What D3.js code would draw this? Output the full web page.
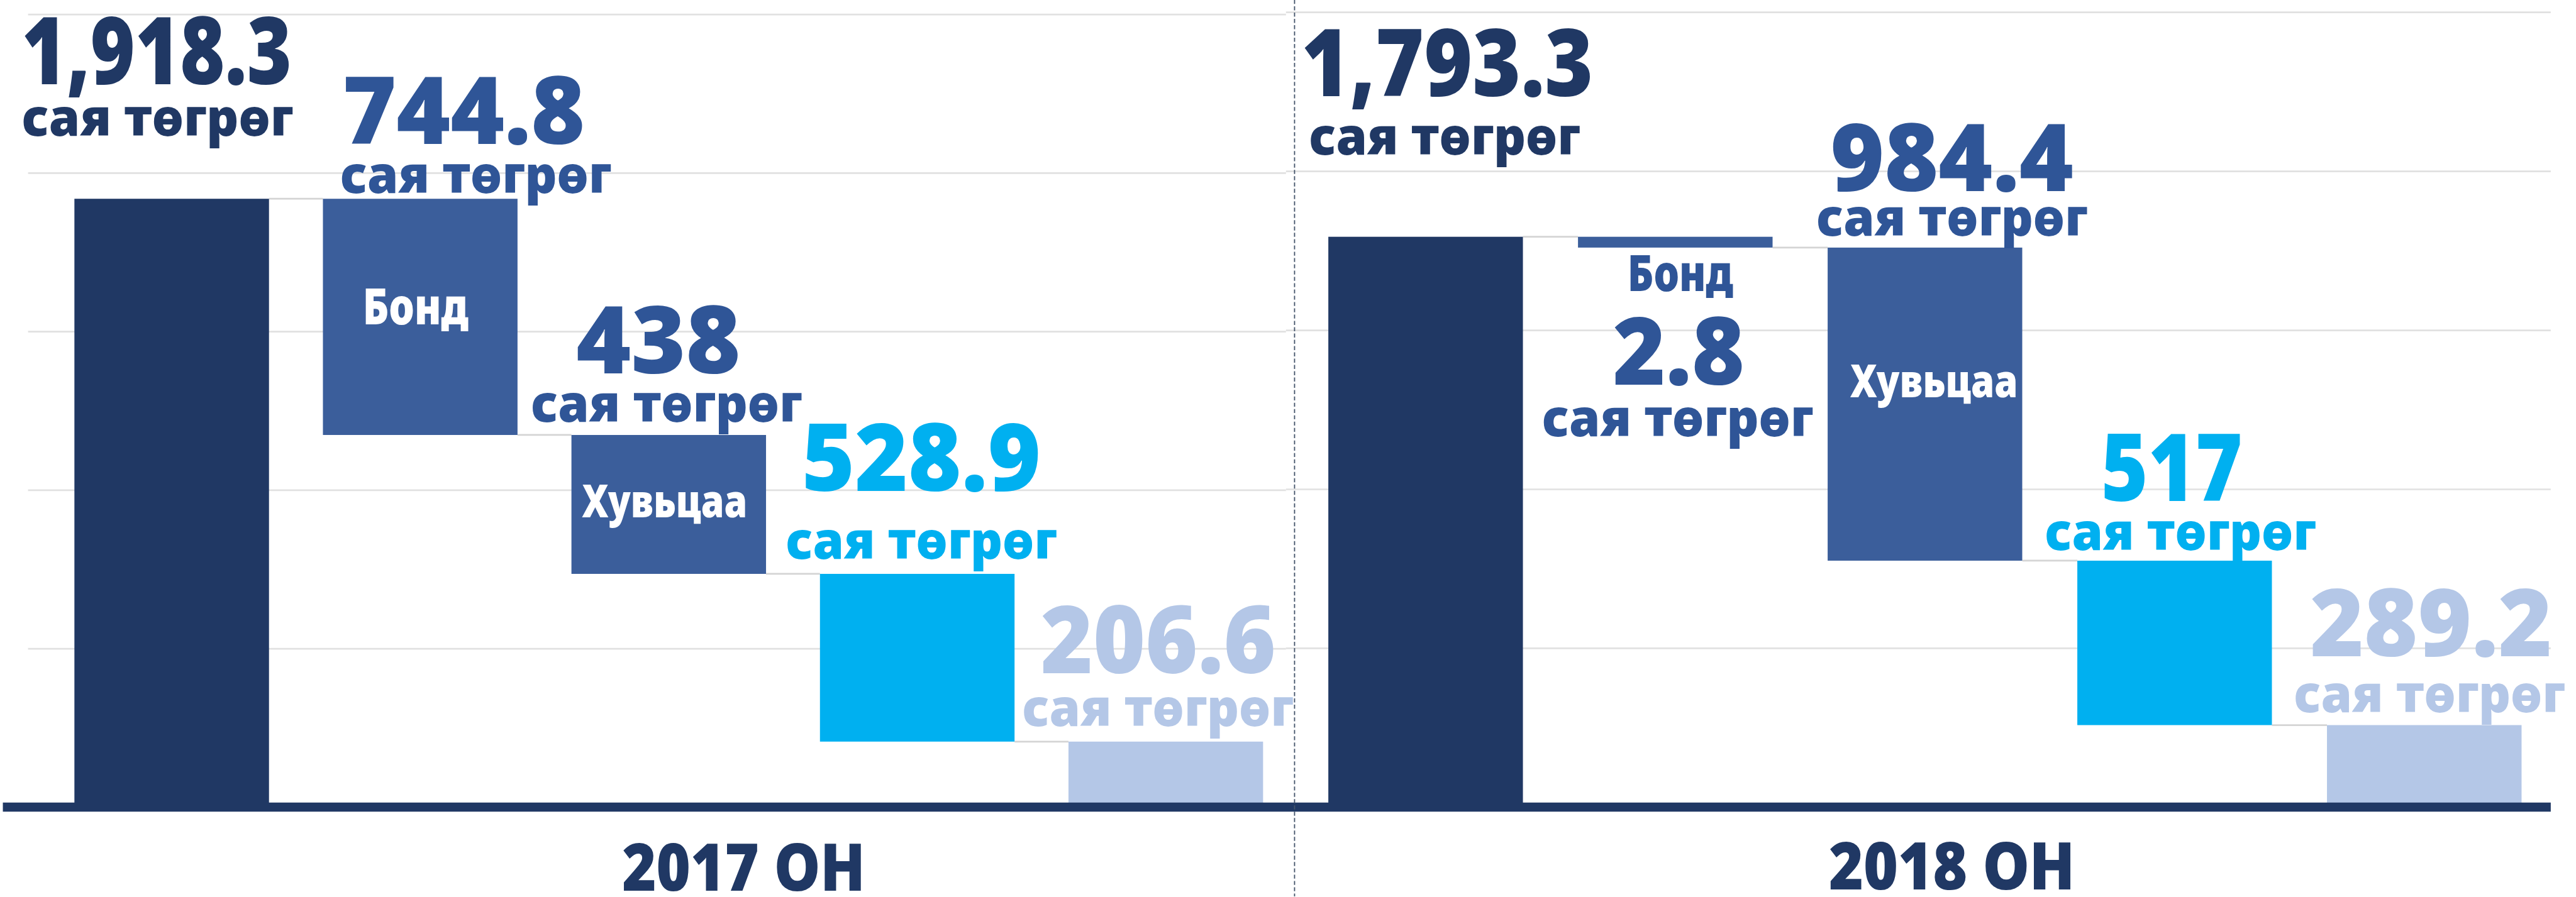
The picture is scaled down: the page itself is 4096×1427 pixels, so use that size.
<!DOCTYPE html>
<html>
<head>
<meta charset="utf-8">
<script src="https://cdn.jsdelivr.net/npm/d3@7"></script>
<style>
  html, body { margin: 0; padding: 0; background: #fff; }
  svg { display: block; }
  text { font-family: "Noto Sans", "DejaVu Sans", sans-serif; font-weight: 900; }
</style>
</head>
<body>
<div id="chart"></div>
<script>
// values
const steps = ["total", "bond", "equity", "step4", "step5"]
const values2017 = [1918.3, 744.8, 438, 528.9, 206.6]
const values2018 = [1793.3, 34, 984.4, 517, 257.9]   // bar heights as drawn
const valueLabels2017 = ["1,918.3", "744.8", "438", "528.9", "206.6"]
const valueLabels2018 = ["1,793.3", "2.8", "984.4", "517", "289.2"]
const stepNames = ["", "Бонд", "Хувьцаа", "", ""]
const unitLabel = "сая төгрөг"
const yearLabels = ["2017 ОН", "2018 ОН"]
const yTicks = [500, 1000, 1500, 2000, 2500]

const barColors = ["#203864", "#3b5e9b", "#3b5e9b", "#00b0f0", "#b4c7e7"]
const textColors = ["#203864", "#2f5597", "#2f5597", "#00b0f0", "#b4c7e7"]

// window size, everything below is laid out in reference pixels and scaled down
const svgWidth = 4096
const svgHeight = 1427
const k = 0.91
const zeroY = 1411

// label offsets from the bar centre / bar top: [dx, dy], plus the text widths
const panels = [
	{
		values: values2017, labels: valueLabels2017, year: yearLabels[0],
		xRange: [82.9, 2254.1], inner: 0.217, yTop: 25, grid: [49, 2247],
		yearPos: [131, 1557, 425],
		numPos: [[-26, -200.5], [76, -95.5], [-18, -107.4], [7, -145.2], [-13, -119.5]],
		numW: [472, 424, 287, 418, 411],
		unitPos: [[-25, -110.5], [97, -10.5], [-4, -23.4], [7, -26.7], [-14, -27]],
		namePos: [null, [-8, 219.5, 185], [-7, 144, 289], null, null],
		nameColor: ["#fff", "#fff", "#fff", "#fff", "#fff"]
	},
	{
		values: values2018, labels: valueLabels2018, year: yearLabels[1],
		xRange: [2272.9, 4454.1], inner: 0.2206, yTop: 21, grid: [2247, 4457],
		yearPos: [47, 1555, 430],
		numPos: [[38, -245.9], [6, 258.1], [47, -98.8], [-5, -104.2], [12, -120.6]],
		numW: [510, 230, 425, 247, 423],
		unitPos: [[33, -143.9], [4, 349.1], [47, -20.8], [10, -18.2], [9, -22.6]],
		namePos: [null, [9, 95.1, 185], [16, 262.2, 293], null, null],
		nameColor: ["#fff", "#2f5597", "#fff", "#fff", "#fff"]
	}
]

let svg = d3
	.select("#chart")
	.append("svg")
	.attr("width", svgWidth)
	.attr("height", svgHeight)

let root = svg.append("g").attr("transform", `scale(${k})`)

panels.forEach(p => {
	let xScale = d3
		.scaleBand()
		.domain(steps)
		.range(p.xRange)
		.paddingInner(p.inner)
		.paddingOuter(p.inner / 2)

	let yScale = d3
		.scaleLinear()
		.domain([0, 2500])
		.range([zeroY, p.yTop])

	// waterfall: first bar is the total, the rest float down to zero
	let level = p.values[0]
	let segs = p.values.map((v, i) => {
		if (i === 0) return { lo: 0, hi: v }
		let s = { lo: level - v, hi: level }
		level -= v
		return s
	})

	// gridlines
	let grid = root
		.append("g")
		.attr("transform", `translate(${p.grid[0]}, 0)`)
		.call(d3.axisLeft(yScale).tickValues(yTicks).tickSize(-(p.grid[1] - p.grid[0])).tickFormat(""))
	grid.select(".domain").remove()
	grid.selectAll(".tick line").attr("stroke", "#e1e1e1").attr("stroke-width", 3)

	// connectors between steps
	let g = root.append("g")
	g.selectAll(".conn")
		.data(steps.slice(0, -1))
		.enter()
		.append("line")
		.attr("x1", d => xScale(d) + xScale.bandwidth())
		.attr("x2", (d, i) => xScale(steps[i + 1]))
		.attr("y1", (d, i) => yScale(segs[i + 1].hi))
		.attr("y2", (d, i) => yScale(segs[i + 1].hi))
		.attr("stroke", "#d4d4d4")
		.attr("stroke-width", 3)

	// bars
	g.selectAll(".bar")
		.data(steps)
		.enter()
		.append("rect")
		.attr("x", d => xScale(d))
		.attr("width", xScale.bandwidth())
		.attr("y", (d, i) => yScale(segs[i].hi))
		.attr("height", (d, i) => yScale(segs[i].lo) - yScale(segs[i].hi))
		.attr("fill", (d, i) => barColors[i])

	let cx = d => xScale(d) + xScale.bandwidth() / 2

	// value labels
	g.selectAll(".num")
		.data(steps)
		.enter()
		.append("text")
		.attr("x", (d, i) => cx(d) + p.numPos[i][0])
		.attr("y", (d, i) => yScale(segs[i].hi) + p.numPos[i][1])
		.attr("text-anchor", "middle")
		.attr("font-size", 164)
		.attr("textLength", (d, i) => p.numW[i])
		.attr("lengthAdjust", "spacingAndGlyphs")
		.attr("fill", (d, i) => textColors[i])
		.text((d, i) => p.labels[i])

	g.selectAll(".unit")
		.data(steps)
		.enter()
		.append("text")
		.attr("x", (d, i) => cx(d) + p.unitPos[i][0])
		.attr("y", (d, i) => yScale(segs[i].hi) + p.unitPos[i][1])
		.attr("text-anchor", "middle")
		.attr("font-size", 90)
		.attr("textLength", 474)
		.attr("lengthAdjust", "spacingAndGlyphs")
		.attr("fill", (d, i) => textColors[i])
		.text(unitLabel)

	// step names
	let named = steps.filter((d, i) => p.namePos[i])
	g.selectAll(".name")
		.data(named)
		.enter()
		.append("text")
		.attr("x", d => cx(d) + p.namePos[steps.indexOf(d)][0])
		.attr("y", d => yScale(segs[steps.indexOf(d)].hi) + p.namePos[steps.indexOf(d)][1])
		.attr("text-anchor", "middle")
		.attr("font-size", d => steps.indexOf(d) === 1 ? 88 : 80)
		.attr("textLength", d => p.namePos[steps.indexOf(d)][2])
		.attr("lengthAdjust", "spacingAndGlyphs")
		.attr("fill", d => p.nameColor[steps.indexOf(d)])
		.text(d => stepNames[steps.indexOf(d)])

	// year label
	root.append("text")
		.attr("x", (p.xRange[0] + p.xRange[1]) / 2 + p.yearPos[0])
		.attr("y", p.yearPos[1])
		.attr("text-anchor", "middle")
		.attr("font-size", 114)
		.attr("textLength", p.yearPos[2])
		.attr("lengthAdjust", "spacingAndGlyphs")
		.attr("fill", "#203864")
		.text(p.year)
})

// category axis line
root.append("line")
	.attr("x1", 5)
	.attr("x2", 4457)
	.attr("y1", zeroY)
	.attr("y2", zeroY)
	.attr("stroke", "#203864")
	.attr("stroke-width", 16)

// dashed divider between the years
root.append("line")
	.attr("x1", 2262)
	.attr("x2", 2262)
	.attr("y1", 0)
	.attr("y2", 1567)
	.attr("stroke", "#44546a")
	.attr("stroke-width", 2)
	.attr("stroke-dasharray", "7,4")
</script>
</body>
</html>
